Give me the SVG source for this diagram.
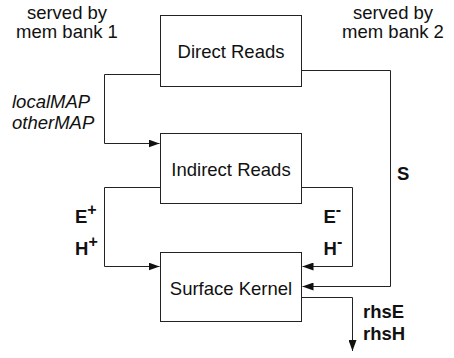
<svg xmlns="http://www.w3.org/2000/svg" width="454" height="358" viewBox="0 0 454 358">
<style>
text{font-family:"Liberation Sans",Arial,Helvetica,sans-serif;font-size:18.5px;fill:#111}
.c{text-anchor:middle}
.b{font-weight:bold}
.i{font-style:italic}
.box{fill:#fff;stroke:#222;stroke-width:1}
.ln{fill:none;stroke:#222;stroke-width:1}
.sup{font-size:16px;font-weight:bold}
</style>
<defs>
<marker id="ah" viewBox="0 0 11 8" refX="11" refY="4" markerWidth="11" markerHeight="8" markerUnits="userSpaceOnUse" orient="auto">
<path d="M0,0 L11,4 L0,8 Z" fill="#111"/>
</marker>
</defs>
<rect width="454" height="358" fill="#fff"/>
<g id="labels">
<text class="c" x="67" y="18.5">served by</text>
<text class="c" x="67" y="38">mem bank 1</text>
<text class="c" x="393" y="18.5">served by</text>
<text class="c" x="393" y="38">mem bank 2</text>
</g>
<g id="connectors">
<path class="ln" d="M160.5,74.5 H104.5 V143.5 H159.5" marker-end="url(#ah)"/>
<path class="ln" d="M301.5,70.5 H390.5 V286.5 H302.5" marker-end="url(#ah)"/>
<path class="ln" d="M160.5,187.5 H104.5 V266.5 H159.5" marker-end="url(#ah)"/>
<path class="ln" d="M301.5,187.5 H352.5 V266.5 H302.5" marker-end="url(#ah)"/>
<path class="ln" d="M301.5,297.5 H352.5 V351" marker-end="url(#ah)"/>
<text class="i" x="12" y="108">localMAP</text>
<text class="i" x="12" y="128.5">otherMAP</text>
<text class="b" x="397" y="180">S</text>
<text class="b" x="75" y="223">E<tspan class="sup" dy="-8">+</tspan></text>
<text class="b" x="75" y="255">H<tspan class="sup" dy="-8">+</tspan></text>
<text class="b" x="323.5" y="223">E<tspan class="sup" dy="-8">-</tspan></text>
<text class="b" x="323.5" y="255">H<tspan class="sup" dy="-8">-</tspan></text>
<text class="b" x="363" y="318">rhsE</text>
<text class="b" x="363" y="340">rhsH</text>
</g>
<g id="direct">
<rect class="box" x="160.5" y="15.5" width="141" height="71"/>
<text class="c" x="231" y="58">Direct Reads</text>
</g>
<g id="indirect">
<rect class="box" x="160.5" y="133.5" width="141" height="70"/>
<text class="c" x="231" y="176">Indirect Reads</text>
</g>
<g id="surface">
<rect class="box" x="160.5" y="252.5" width="141" height="69"/>
<text class="c" x="231" y="294.5">Surface Kernel</text>
</g>
</svg>
